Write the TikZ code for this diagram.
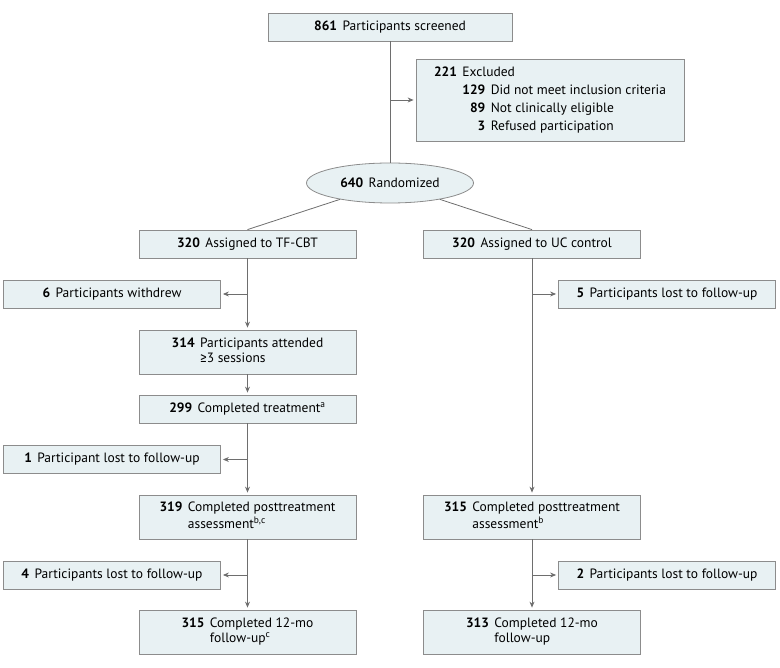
\documentclass[tikz,border=0pt]{standalone}
\usepackage{fontspec}
\setmainfont{PT Sans}
\newfontfamily\symfont{Fira Sans}
\usepackage{xcolor}
\usetikzlibrary{shapes.geometric, arrows.meta}

\definecolor{boxfill}{HTML}{E8F1F3}
\definecolor{boxline}{HTML}{8C8C8C}
\definecolor{flowline}{HTML}{6E6E6E}
\newcommand{\cnt}[1]{\textbf{#1}\hspace{0.4em}}

\begin{document}
\begin{tikzpicture}[x = 1pt, y = -1pt,
		font = \fontsize{13.5}{15.5}\selectfont,
		box/.style = {draw = boxline, fill = boxfill, line width = 0.8pt, minimum width = 217pt, minimum height = 28pt, inner sep = 2pt, align = center},
		tall/.style = {box, minimum height = 44pt},
		flow/.style = {draw = flowline, line width = 0.8pt},
		arr/.style = {flow, -{Stealth[length = 6pt, width = 5pt]}, shorten > = 2pt}]
	\useasboundingbox (0,0) rectangle (780,668);

	% screening
	\node [box, minimum width = 244pt] (screened) at (390,27) {\cnt{861}Participants screened};
	\node [box, minimum width = 268pt, minimum height = 82pt] (excluded) at (550,100)
		{\renewcommand{\arraystretch}{1.16}\begin{tabular}{@{}l@{\hspace{0.4em}}r@{\hspace{0.4em}}l@{}}
			\textbf{221} & \multicolumn{2}{@{}l@{}}{Excluded}\\
			& \textbf{129} & Did not meet inclusion criteria\\
			& \textbf{89} & Not clinically eligible\\
			& \textbf{3} & Refused participation
		\end{tabular}};
	\node [ellipse, draw = boxline, fill = boxfill, line width = 0.8pt, minimum width = 167pt, minimum height = 40pt, inner sep = 0pt] (randomized) at (390,183) {\cnt{640}Randomized};

	% TF-CBT arm
	\node [box] (tfcbt) at (247.5,244) {\cnt{320}Assigned to TF-CBT};
	\node [box] (withdrew) at (112,294) {\cnt{6}Participants withdrew};
	\node [tall] (attended) at (247.5,352) {\cnt{314}\begin{tabular}[t]{@{}l@{}}Participants attended\\{\symfont ≥}3 sessions\end{tabular}};
	\node [box] (treated) at (247.5,409) {\cnt{299}Completed treatment\textsuperscript{a}};
	\node [box] (lostA) at (112,459.5) {\cnt{1}Participant lost to follow-up};
	\node [tall] (postA) at (247.5,517) {\cnt{319}\begin{tabular}[t]{@{}l@{}}Completed posttreatment\\assessment\textsuperscript{b,c}\end{tabular}};
	\node [box] (lostB) at (112,575) {\cnt{4}Participants lost to follow-up};
	\node [tall] (followA) at (247.5,632) {\cnt{315}\begin{tabular}[t]{@{}l@{}}Completed 12-mo\\follow-up\textsuperscript{c}\end{tabular}};

	% UC control arm
	\node [box] (uc) at (532,244) {\cnt{320}Assigned to UC control};
	\node [box] (lostC) at (667,294) {\cnt{5}Participants lost to follow-up};
	\node [tall] (postB) at (532,517) {\cnt{315}\begin{tabular}[t]{@{}l@{}}Completed posttreatment\\assessment\textsuperscript{b}\end{tabular}};
	\node [box] (lostD) at (667,575) {\cnt{2}Participants lost to follow-up};
	\node [tall] (followB) at (532,632) {\cnt{313}\begin{tabular}[t]{@{}l@{}}Completed 12-mo\\follow-up\end{tabular}};

	% connectors
	\draw [flow] (screened) -- (randomized);
	\draw [arr] (screened.south |- excluded.west) -- (excluded.west);
	\draw [flow] (randomized) -- (tfcbt.north);
	\draw [flow] (randomized) -- (uc.north);

	\draw [arr] (tfcbt) -- (attended);
	\draw [arr] (tfcbt.south |- withdrew.east) -- (withdrew.east);
	\draw [arr] (attended) -- (treated);
	\draw [arr] (treated) -- (postA);
	\draw [arr] (treated.south |- lostA.east) -- (lostA.east);
	\draw [arr] (postA) -- (followA);
	\draw [arr] (postA.south |- lostB.east) -- (lostB.east);

	\draw [arr] (uc) -- (postB);
	\draw [arr] (uc.south |- lostC.west) -- (lostC.west);
	\draw [arr] (postB) -- (followB);
	\draw [arr] (postB.south |- lostD.west) -- (lostD.west);
\end{tikzpicture}
\end{document}
